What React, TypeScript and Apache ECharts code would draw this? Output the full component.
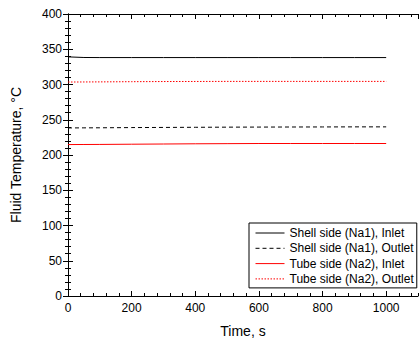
import React, { useEffect, useRef } from "react";
import * as echarts from "echarts";

const timeS = [0, 50, 100, 200, 300, 400, 500, 600, 700, 800, 900, 1000];
const shellInlet = [339.2, 338.3, 338.2, 338.2, 338.2, 338.2, 338.2, 338.2, 338.2, 338.2, 338.2, 338.2];
const shellOutlet = [238.4, 238.5, 238.6, 238.9, 239.1, 239.3, 239.5, 239.6, 239.7, 239.8, 239.9, 239.9];
const tubeInlet = [214.8, 214.9, 215.0, 215.3, 215.6, 215.9, 216.1, 216.3, 216.3, 216.3, 216.3, 216.3];
const tubeOutlet = [303.5, 303.6, 303.7, 304.0, 304.2, 304.3, 304.4, 304.4, 304.4, 304.4, 304.4, 304.4];
const seriesNames = [
  "Shell side (Na1), Inlet",
  "Shell side (Na1), Outlet",
  "Tube side (Na2), Inlet",
  "Tube side (Na2), Outlet",
];

const FONT = "'Liberation Sans', Arial, sans-serif";

export default function App() {
  const ref = useRef<HTMLDivElement>(null);
  useEffect(() => {
    if (!ref.current) return;
    const chart = echarts.init(ref.current, null, { renderer: "svg" });
    const pair = (ys: number[]) => timeS.map((t, i) => [t, ys[i]]);
    const axisLine = { show: true, lineStyle: { color: "#000", width: 1 } };
    const xBase = { type: "value", min: 0, max: 1100, gridIndex: 0, splitLine: { show: false } };
    const yBase = { type: "value", min: 0, max: 400, gridIndex: 0, splitLine: { show: false } };
    const fmtX = (v: number) => (v > 1000 ? "" : String(v));
    const fmtY = (v: number) => String(v);
    chart.setOption({
      animation: false,
      backgroundColor: "#fff",
      textStyle: { fontFamily: FONT },
      grid: { left: 68, top: 14, right: 2, bottom: 46, containLabel: false },
      legend: {
        orient: "vertical",
        left: 249,
        top: 223,
        padding: [4, 3, 3, 6],
        itemWidth: 29,
        itemHeight: 10,
        itemGap: 3.3,
        borderColor: "#000",
        borderWidth: 1,
        backgroundColor: "#fff",
        itemStyle: { opacity: 0 },
        lineStyle: { width: 1 },
        textStyle: { fontSize: 12, color: "#000", fontFamily: FONT },
        data: seriesNames,
      },
      xAxis: [
        {
          ...xBase,
          position: "bottom",
          interval: 200,
          axisLine,
          axisTick: { show: true, inside: true, length: 5, lineStyle: { color: "#000" } },
          axisLabel: { show: true, color: "#000", fontSize: 12, margin: 6, showMaxLabel: false, fontFamily: FONT, formatter: fmtX },
          name: "Time, s",
          nameLocation: "middle",
          nameGap: 28,
          nameTextStyle: { fontSize: 14, color: "#000", fontFamily: FONT },
        },
        {
          ...xBase,
          position: "bottom",
          interval: 40,
          axisLine: { show: false },
          axisTick: { show: true, inside: true, length: 3, lineStyle: { color: "#000" } },
          axisLabel: { show: false },
        },
        {
          ...xBase,
          position: "top",
          interval: 200,
          axisLine,
          axisTick: { show: true, inside: true, length: 5, lineStyle: { color: "#000" } },
          axisLabel: { show: false },
        },
        {
          ...xBase,
          position: "top",
          interval: 40,
          axisLine: { show: false },
          axisTick: { show: true, inside: true, length: 3, lineStyle: { color: "#000" } },
          axisLabel: { show: false },
        },
      ],
      yAxis: [
        {
          ...yBase,
          position: "left",
          interval: 50,
          axisLine,
          axisTick: { show: true, inside: true, length: 5, lineStyle: { color: "#000" } },
          minorTick: { show: true, splitNumber: 5, length: 3, lineStyle: { color: "#000" } },
          axisLabel: { show: true, color: "#000", fontSize: 12, margin: 6, fontFamily: FONT, formatter: fmtY },
          name: "Fluid Temperature, °C",
          nameLocation: "middle",
          nameGap: 45,
          nameTextStyle: { fontSize: 14, color: "#000", fontFamily: FONT },
        },
        {
          ...yBase,
          position: "right",
          interval: 50,
          axisLine,
          axisTick: { show: true, inside: true, length: 5, lineStyle: { color: "#000" } },
          minorTick: { show: true, splitNumber: 5, length: 3, lineStyle: { color: "#000" } },
          axisLabel: { show: false },
        },
      ],
      series: [
        {
          name: seriesNames[0],
          type: "line",
          data: pair(shellInlet),
          symbol: "none",
          lineStyle: { color: "#000", width: 1, type: "solid" },
          itemStyle: { color: "#000" },
        },
        {
          name: seriesNames[1],
          type: "line",
          data: pair(shellOutlet),
          symbol: "none",
          lineStyle: { color: "#000", width: 1, type: [4, 3] },
          itemStyle: { color: "#000" },
        },
        {
          name: seriesNames[2],
          type: "line",
          data: pair(tubeInlet),
          symbol: "none",
          lineStyle: { color: "#ff0000", width: 1, type: "solid" },
          itemStyle: { color: "#ff0000" },
        },
        {
          name: seriesNames[3],
          type: "line",
          data: pair(tubeOutlet),
          symbol: "none",
          lineStyle: { color: "#ff0000", width: 1, type: [1.5, 1.5] },
          itemStyle: { color: "#ff0000" },
        },
      ],
    });
    return () => chart.dispose();
  }, []);
  return <div ref={ref} style={{ width: 420, height: 343, position: "absolute", left: 0, top: 0 }} />;
}
